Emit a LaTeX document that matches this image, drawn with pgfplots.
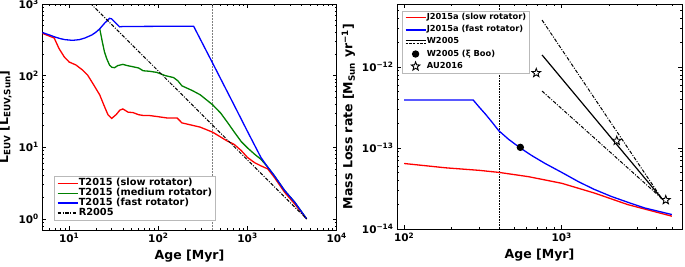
\documentclass[border=0pt]{standalone}
\usepackage{fontspec}
\setmainfont{DejaVu Sans}
\usepackage{pgfplots}
\pgfplotsset{compat=1.18}

\definecolor{mplgreen}{rgb}{0,0.5,0}
\newcommand\lf{\fontsize{9.8}{10}\selectfont\bfseries}
\newcommand\rf{\fontsize{8.3}{10}\selectfont\bfseries}

% open five-pointed star
\pgfdeclareplotmark{ostar}{%
  \pgfpathmoveto{\pgfpointpolar{90}{\pgfplotmarksize}}%
  \pgfpathlineto{\pgfpointpolar{126}{0.42\pgfplotmarksize}}%
  \pgfpathlineto{\pgfpointpolar{162}{\pgfplotmarksize}}%
  \pgfpathlineto{\pgfpointpolar{198}{0.42\pgfplotmarksize}}%
  \pgfpathlineto{\pgfpointpolar{234}{\pgfplotmarksize}}%
  \pgfpathlineto{\pgfpointpolar{270}{0.42\pgfplotmarksize}}%
  \pgfpathlineto{\pgfpointpolar{306}{\pgfplotmarksize}}%
  \pgfpathlineto{\pgfpointpolar{342}{0.42\pgfplotmarksize}}%
  \pgfpathlineto{\pgfpointpolar{18}{\pgfplotmarksize}}%
  \pgfpathlineto{\pgfpointpolar{54}{0.42\pgfplotmarksize}}%
  \pgfpathclose
  \pgfusepathqfillstroke}

\pgfplotsset{
  panel/.style={
    scale only axis,
    axis line style={black, line width=1pt},
    tick style={black, line width=0.6pt},
    major tick length=4pt, minor tick length=2pt,
    tick label style={font=\fontsize{10.5}{12}\selectfont\bfseries},
    label style={font=\fontsize{12.5}{15}\selectfont\bfseries},
    legend cell align=left,
    legend image code/.code={\draw[line width=1.5pt, ##1] (0pt,0pt) -- (20pt,0pt);},
    every axis plot/.append style={line width=1.3pt},
  },
  vline/.style={forget plot, line width=0.6pt},
  markleg/.style={legend image code/.code={\draw[##1] plot coordinates {(10pt,0pt)};}},
  w2005leg/.style={legend image code/.code={%
    \draw[black, line width=1.1pt] (0pt,1.2pt) -- (20pt,1.2pt);
    \draw[black, line width=1pt, dash pattern=on 2.5pt off 1.2pt] (0pt,-1.2pt) -- (20pt,-1.2pt);}},
}
\tikzset{dd/.style={dash pattern=on 3.5pt off 1.5pt on 1pt off 1.5pt}}

\begin{document}
\begin{tikzpicture}
\useasboundingbox (0,0) rectangle (685pt,266pt);

% ---------------- left panel: EUV luminosity
\begin{loglogaxis}[panel,
  at={(42.3pt,36pt)}, anchor=south west,
  width=294.4pt, height=226pt,
  xmin=5, xmax=10000, ymin=0.7, ymax=1000,
  xtick={10,100,1000,10000},
  xticklabels={10\textsuperscript{1},10\textsuperscript{2},10\textsuperscript{3},10\textsuperscript{4}},
  minor xtick={6,7,8,9,20,30,40,50,60,70,80,90,200,300,400,500,600,700,800,900,2000,3000,4000,5000,6000,7000,8000,9000},
  ytick={1,10,100,1000},
  yticklabels={10\textsuperscript{0},10\textsuperscript{1},10\textsuperscript{2},10\textsuperscript{3}},
  minor ytick={0.8,0.9,2,3,4,5,6,7,8,9,20,30,40,50,60,70,80,90,200,300,400,500,600,700,800,900},
  xlabel={Age [Myr]},
  ylabel={L\textsubscript{EUV} [L\textsubscript{EUV,Sun}]},
  legend style={at={(0.04,0.044)}, anchor=south west, draw=gray!55,
    font=\lf, nodes={font=\lf, inner sep=0.5pt, text height=6.2pt, text depth=1.8pt},
    row sep=0.8pt, inner sep=2.5pt},
]
\addplot[vline, gray, dash pattern=on 1pt off 0.5pt] coordinates {(400,0.7) (400,1000)};

\addplot[red] coordinates {
(5,390) (6.8,335) (7.7,239) (8.8,183) (10,155) (11.9,141) (14.1,120) (16.1,102)
(18.4,78) (22,54) (24.9,37) (27.2,28.6) (30,25.3) (33.7,28.6) (37,33) (40,34.3)
(45.8,30.9) (52,30.5) (60,28.5) (67.6,27.8) (80,27.7) (96,26.9) (124,25.7)
(162,25.7) (184,21.9) (295,19.1) (408,16.2) (594,12.2) (706,11) (850,9)
(1000,7.2) (1200,6.1) (1414,5.5) (1683,5.0) (2000,3.8) (2600,2.36) (3373,1.62) (4600,1.0)};

\addplot[mplgreen] coordinates {
(22,455) (23.5,300) (24.9,214) (26.5,170) (28.4,140) (30,131) (32.3,129)
(35,138) (40,143.6) (45,138) (52,133) (60,128) (67.6,117) (80,115) (96,111)
(120,100) (148,94) (165,85) (184,72) (240,62) (295,54) (408,39) (500,30)
(600,22) (706,16.5) (850,12) (1000,9.8) (1200,8) (1414,6.8) (1683,5.3)
(2000,4.0) (2600,2.5) (3373,1.72) (4600,1.0)};

\addplot[blue] coordinates {
(5,400) (6,370) (7,345) (8,328) (9,318) (10.9,311) (13,318) (15,335) (18,370)
(20,405) (22,450) (25,540) (28.4,631) (30,620) (33,550) (36.8,480) (40,485)
(100,488) (249,488) (408,148) (706,39) (1000,16.6) (1414,7.2) (1683,5.3)
(2000,4.0) (2600,2.5) (3373,1.72) (4600,1.0)};

\addplot[black, line width=1pt, dd] coordinates {(15,1219) (4600,1)};

\legend{T2015 (slow rotator), T2015 (medium rotator), T2015 (fast rotator), R2005}
\end{loglogaxis}

% ---------------- right panel: mass loss rate
\begin{loglogaxis}[panel,
  at={(397pt,37pt)}, anchor=south west,
  width=285pt, height=225pt,
  xmin=90, xmax=5800, ymin=1e-14, ymax=6e-12,
  xtick={100,1000},
  xticklabels={10\textsuperscript{2},10\textsuperscript{3}},
  minor xtick={200,300,400,500,600,700,800,900,2000,3000,4000,5000},
  ytick={1e-14,1e-13,1e-12},
  yticklabels={10\textsuperscript{−14},10\textsuperscript{−13},10\textsuperscript{−12}},
  minor ytick={2e-14,3e-14,4e-14,5e-14,6e-14,7e-14,8e-14,9e-14,2e-13,3e-13,4e-13,5e-13,6e-13,7e-13,8e-13,9e-13,2e-12,3e-12,4e-12,5e-12},
  xlabel={Age [Myr]},
  ylabel={Mass Loss rate [M\textsubscript{Sun} yr\textsuperscript{−1}]},
  legend style={at={(0.018,0.97)}, anchor=north west, draw=gray!55,
    font=\rf, nodes={font=\rf, inner sep=0.5pt, text height=5.8pt, text depth=1.7pt},
    row sep=3.6pt, inner sep=2.5pt},
]
\addplot[vline, black, densely dotted] coordinates {(400,1e-14) (400,6e-12)};

\addplot[red] coordinates {
(100,6.44e-14) (183,5.7e-14) (300,5.3e-14) (400,5.0e-14) (615,4.43e-14)
(1000,3.67e-14) (1622,2.77e-14) (2630,2.0e-14) (5000,1.44e-14)};

\addplot[blue] coordinates {
(100,3.92e-13) (274,3.92e-13) (298,3.23e-13) (328,2.62e-13) (360,2.1e-13)
(398,1.64e-13) (460,1.28e-13) (546,1.0e-13) (650,8.0e-14) (785,6.44e-14)
(1000,5.0e-14) (1274,3.85e-14) (1600,3.1e-14) (2068,2.52e-14) (2700,2.1e-14)
(3357,1.82e-14) (5000,1.51e-14)};

\addplot[black, line width=1.2pt, w2005leg]
  coordinates {(750,1.41e-12) (4300,2.4e-14)};

\addplot[black, only marks, mark=*, mark size=3pt, markleg]
  coordinates {(546,1.02e-13)};

\addplot[black, only marks, mark=ostar, mark size=4.5pt, line width=0.9pt,
  mark options={fill=white, draw=black}, markleg]
  coordinates {(689,8.45e-13) (2234,1.23e-13) (4575,2.28e-14)};

\addplot[forget plot, black, line width=1pt, dd] coordinates {(750,3.8e-12) (4300,2.4e-14)};
\addplot[forget plot, black, line width=1pt, dd] coordinates {(750,5.05e-13) (4300,2.4e-14)};

\legend{J2015a (slow rotator), J2015a (fast rotator), W2005, W2005 (ξ Boo), AU2016}
\end{loglogaxis}
\end{tikzpicture}
\end{document}
